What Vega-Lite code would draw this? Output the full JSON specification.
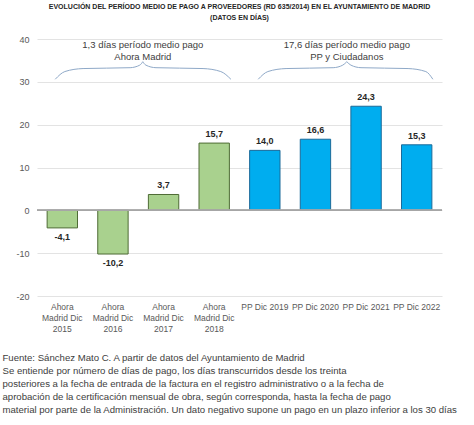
{
  "$schema": "https://vega.github.io/schema/vega-lite/v6.json",
  "width": 405,
  "height": 257,
  "autosize": {"type": "none"},
  "padding": {"left": 37, "top": 39, "right": 32, "bottom": 129},
  "background": "white",
  "config": {
    "font": "Liberation Sans",
    "view": {"stroke": null},
    "locale": {"number": {"decimal": ",", "thousands": ".", "grouping": [3], "currency": ["", " €"], "minus": "-"}}
  },
  "title": {
    "text": ["EVOLUCIÓN DEL PERÍODO MEDIO DE PAGO A PROVEEDORES (RD 635/2014) EN EL AYUNTAMIENTO DE MADRID", "(DATOS EN DÍAS)"],
    "fontSize": 7,
    "fontWeight": "bold",
    "color": "#262626",
    "lineHeight": 11,
    "offset": 14,
    "anchor": "middle"
  },
  "datasets": {
    "main": [
      {"cat": "Ahora|Madrid Dic|2015", "grupo": "Ahora Madrid", "dias": -4.1},
      {"cat": "Ahora|Madrid Dic|2016", "grupo": "Ahora Madrid", "dias": -10.2},
      {"cat": "Ahora|Madrid Dic|2017", "grupo": "Ahora Madrid", "dias": 3.7},
      {"cat": "Ahora|Madrid Dic|2018", "grupo": "Ahora Madrid", "dias": 15.7},
      {"cat": "PP Dic 2019", "grupo": "PP", "dias": 14.0},
      {"cat": "PP Dic 2020", "grupo": "PP", "dias": 16.6},
      {"cat": "PP Dic 2021", "grupo": "PP", "dias": 24.3},
      {"cat": "PP Dic 2022", "grupo": "PP", "dias": 15.3}
    ],
    "llaves": [
      {"tramo": "a1", "pos": 0.36, "v": 30.6},
      {"tramo": "a1", "pos": 0.55, "v": 32.4},
      {"tramo": "a1", "pos": 0.91, "v": 33.1},
      {"tramo": "a1", "pos": 1.84, "v": 33.3},
      {"tramo": "a1", "pos": 2.03, "v": 33.9},
      {"tramo": "a1", "pos": 2.09, "v": 34.7},
      {"tramo": "a2", "pos": 2.09, "v": 34.7},
      {"tramo": "a2", "pos": 2.15, "v": 33.9},
      {"tramo": "a2", "pos": 2.35, "v": 33.3},
      {"tramo": "a2", "pos": 3.28, "v": 33.1},
      {"tramo": "a2", "pos": 3.63, "v": 32.4},
      {"tramo": "a2", "pos": 3.83, "v": 30.6},
      {"tramo": "b1", "pos": 4.37, "v": 30.6},
      {"tramo": "b1", "pos": 4.56, "v": 32.4},
      {"tramo": "b1", "pos": 4.92, "v": 33.1},
      {"tramo": "b1", "pos": 5.85, "v": 33.3},
      {"tramo": "b1", "pos": 6.04, "v": 33.9},
      {"tramo": "b1", "pos": 6.12, "v": 34.7},
      {"tramo": "b2", "pos": 6.12, "v": 34.7},
      {"tramo": "b2", "pos": 6.2, "v": 33.9},
      {"tramo": "b2", "pos": 6.4, "v": 33.3},
      {"tramo": "b2", "pos": 7.33, "v": 33.1},
      {"tramo": "b2", "pos": 7.68, "v": 32.4},
      {"tramo": "b2", "pos": 7.82, "v": 30.6}
    ],
    "notas": [
      {"pos": 2.09, "v": 38.6, "texto": "1,3 días período medio pago"},
      {"pos": 2.09, "v": 35.8, "texto": "Ahora Madrid"},
      {"pos": 6.12, "v": 38.6, "texto": "17,6 días período medio pago"},
      {"pos": 6.12, "v": 35.8, "texto": "PP y Ciudadanos"}
    ]
  },
  "resolve": {"scale": {"x": "independent"}},
  "layer": [
    {
      "data": {"name": "main"},
      "encoding": {
        "x": {
          "field": "cat", "type": "nominal", "sort": null,
          "scale": {"paddingInner": 0.4, "paddingOuter": 0.2},
          "axis": {
            "labelExpr": "split(datum.value, '|')",
            "labelAngle": 0, "labelFontSize": 8.5, "labelColor": "#595959",
            "labelLineHeight": 11, "labelPadding": 6, "labelBaseline": "top",
            "domain": false, "ticks": false, "grid": false,
            "title": [
              "Fuente: Sánchez Mato C. A partir de datos del Ayuntamiento de Madrid",
              "Se entiende por número de días de pago, los días transcurridos desde los treinta",
              "posteriores a la fecha de entrada de la factura en el registro administrativo o a la fecha de",
              "aprobación de la certificación mensual de obra, según corresponda, hasta la fecha de pago",
              "material por parte de la Administración. Un dato negativo supone un pago en un plazo inferior a los 30 días"
            ],
            "titleFontSize": 9.6, "titleFontWeight": "normal", "titleColor": "#404040",
            "titleLineHeight": 13, "titleAnchor": "start", "titleAlign": "left",
            "titleBaseline": "top", "titleX": -35, "titleY": 56
          }
        },
        "y": {
          "field": "dias", "type": "quantitative",
          "scale": {"domain": [-20, 40], "nice": false},
          "axis": {
            "values": [-20, -10, 0, 10, 20, 30, 40],
            "title": null, "domain": false, "ticks": false,
            "labelFontSize": 9, "labelColor": "#595959", "labelPadding": 8,
            "gridColor": "#e3e3e3", "gridWidth": 1
          }
        }
      },
      "layer": [
        {
          "mark": {"type": "bar", "strokeWidth": 1},
          "encoding": {
            "fill": {
              "field": "grupo", "type": "nominal",
              "scale": {"domain": ["Ahora Madrid", "PP"], "range": ["#a9d18e", "#00adef"]},
              "legend": null
            },
            "stroke": {
              "field": "grupo", "type": "nominal",
              "scale": {"domain": ["Ahora Madrid", "PP"], "range": ["#4e6b35", "#1b6a99"]},
              "legend": null
            }
          }
        },
        {
          "transform": [{"filter": "datum.dias >= 0"}],
          "mark": {"type": "text", "fontSize": 9, "fontWeight": "bold", "color": "#262626", "baseline": "bottom", "dy": -4},
          "encoding": {
            "text": {"field": "dias", "type": "quantitative", "format": ".1f"}
          }
        },
        {
          "transform": [{"filter": "datum.dias < 0"}],
          "mark": {"type": "text", "fontSize": 9, "fontWeight": "bold", "color": "#262626", "baseline": "top", "dy": 5},
          "encoding": {
            "text": {"field": "dias", "type": "quantitative", "format": ".1f"}
          }
        },
        {
          "mark": {"type": "rule", "color": "#a6a6a6", "strokeWidth": 1.2},
          "encoding": {"x": {"value": 0}, "x2": {"value": 405}, "y": {"datum": 0, "type": "quantitative"}}
        }
      ]
    },
    {
      "layer": [
        {
          "data": {"name": "llaves"},
          "mark": {"type": "line", "interpolate": "monotone", "color": "#8fa9c8", "strokeWidth": 1},
          "encoding": {
            "x": {"field": "pos", "type": "quantitative", "scale": {"domain": [0, 8], "nice": false, "zero": false}, "axis": null},
            "y": {"field": "v", "type": "quantitative"},
            "detail": {"field": "tramo"}
          }
        },
        {
          "data": {"name": "notas"},
          "mark": {"type": "text", "fontSize": 9.5, "color": "#404040"},
          "encoding": {
            "x": {"field": "pos", "type": "quantitative", "scale": {"domain": [0, 8], "nice": false, "zero": false}, "axis": null},
            "y": {"field": "v", "type": "quantitative"},
            "text": {"field": "texto"}
          }
        }
      ]
    }
  ]
}
